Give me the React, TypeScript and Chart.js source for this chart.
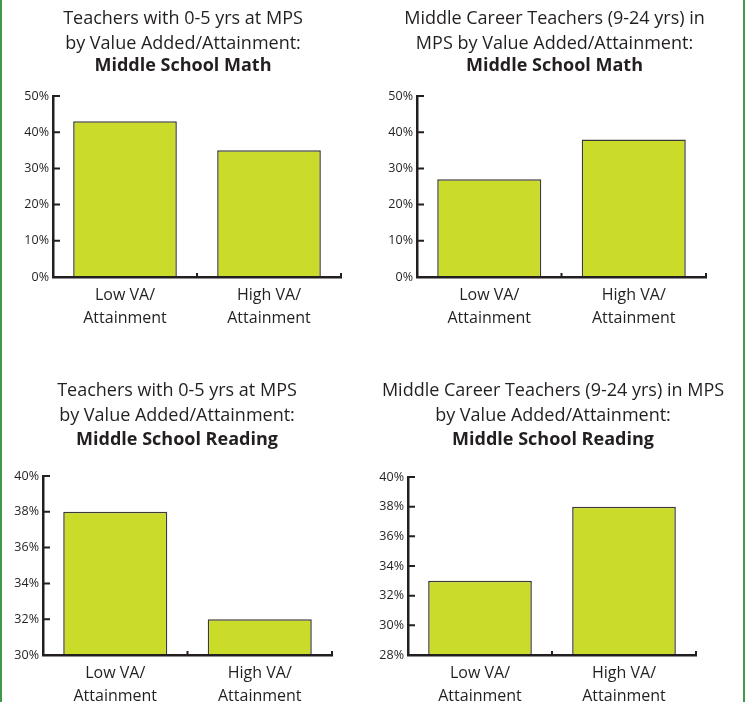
import React, { useEffect, useRef } from "react";
import { Chart, registerables } from "chart.js";

Chart.register(...registerables);

// ---- data ----
const categories: string[][] = [
  ["Low VA/", "Attainment"],
  ["High VA/", "Attainment"],
];
const mathNewTitle = ["Teachers with 0-5 yrs at MPS", "by Value Added/Attainment:"];
const mathMidTitle = ["Middle Career Teachers (9-24 yrs) in", "MPS by Value Added/Attainment:"];
const readNewTitle = ["Teachers with 0-5 yrs at MPS", "by Value Added/Attainment:"];
const readMidTitle = ["Middle Career Teachers (9-24 yrs) in MPS", "by Value Added/Attainment:"];
const mathSubtitle = "Middle School Math";
const readSubtitle = "Middle School Reading";

const mathNewValues = [43, 35];
const mathMidValues = [27, 38];
const readNewValues = [38, 32];
const readMidValues = [33, 38];

const mathTicks = [0, 50, 10];
const readNewTicks = [30, 40, 2];
const readMidTicks = [28, 40, 2];

const FONT = "'Open Sans', 'Noto Sans', sans-serif";
const INK = "#231f20";

const inwardTicks = {
  id: "inwardTicks",
  afterDraw(chart: any) {
    const { ctx, chartArea } = chart;
    const y = chart.scales.y;
    const x = chart.scales.x;
    ctx.save();
    ctx.strokeStyle = INK;
    ctx.lineWidth = 2;
    ctx.beginPath();
    y.ticks.forEach((t: any) => {
      const py = y.getPixelForValue(t.value);
      ctx.moveTo(chartArea.left, py);
      ctx.lineTo(chartArea.left + 7, py);
    });
    const n = x.ticks.length;
    for (let i = 0; i < n; i++) {
      const px = i < n - 1 ? (x.getPixelForValue(i) + x.getPixelForValue(i + 1)) / 2 : chartArea.right;
      ctx.moveTo(px, chartArea.bottom);
      ctx.lineTo(px, chartArea.bottom - 4);
    }
    ctx.stroke();
    ctx.restore();
  },
};

type Props = {
  left: number;
  top: number;
  width: number;
  height: number;
  titleLines: string[];
  subtitle: string;
  values: number[];
  ticks: number[];
  yAxisWidth: number;
  rightGap: number;
  xAxisHeight: number;
  titlePadTop: number;
  subPadTop: number;
  subPadBottom: number;
};

function BarChart(p: Props) {
  const ref = useRef<HTMLCanvasElement | null>(null);
  useEffect(() => {
    if (!ref.current) return;
    const chart = new Chart(ref.current, {
      type: "bar",
      data: {
        labels: categories as any,
        datasets: [
          {
            data: p.values,
            backgroundColor: "#cbdb2a",
            borderColor: "#3a3a3a",
            borderWidth: 1.5,
            categoryPercentage: 0.72,
            barPercentage: 1,
          },
        ],
      },
      options: {
        animation: false,
        responsive: false,
        devicePixelRatio: 1,
        layout: { padding: 0 },
        plugins: {
          legend: { display: false },
          tooltip: { enabled: false },
          title: {
            display: true,
            text: p.titleLines,
            color: INK,
            font: { family: FONT, size: 18, weight: "normal", lineHeight: 25 / 18 },
            padding: { top: p.titlePadTop, bottom: 0 },
          },
          subtitle: {
            display: true,
            text: p.subtitle,
            color: INK,
            font: { family: FONT, size: 18, weight: "bold", lineHeight: 20 / 18 },
            padding: { top: p.subPadTop, bottom: p.subPadBottom },
          },
        },
        scales: {
          x: {
            grid: { display: false, drawTicks: false },
            border: { display: true, color: INK, width: 2.5, z: 1 },
            ticks: {
              color: INK,
              padding: 7,
              font: { family: FONT, size: 16, lineHeight: 23 / 16 },
              maxRotation: 0,
              autoSkip: false,
            },
            afterFit(s: any) {
              s.height = p.xAxisHeight;
            },
          },
          y: {
            min: p.ticks[0],
            max: p.ticks[1],
            grid: { display: false, drawTicks: false },
            border: { display: true, color: INK, width: 2.5, z: 1 },
            ticks: {
              stepSize: p.ticks[2],
              color: INK,
              padding: 4,
              font: { family: FONT, size: 12.5 },
              callback: (v: any) => v + "%",
            },
            afterFit(s: any) {
              s.width = p.yAxisWidth;
            },
          },
          y2: {
            type: "linear",
            position: "right",
            display: true,
            grid: { display: false, drawTicks: false },
            border: { display: false },
            ticks: { display: false },
            afterFit(s: any) {
              s.width = p.rightGap;
            },
          },
        },
      } as any,
      plugins: [inwardTicks],
    });
    return () => chart.destroy();
  }, []);
  return (
    <canvas
      ref={ref}
      width={p.width}
      height={p.height}
      style={{ position: "absolute", left: p.left, top: p.top, width: p.width, height: p.height }}
    />
  );
}

export default function App() {
  return (
    <div
      style={{
        position: "absolute",
        left: 0,
        top: 0,
        width: 746,
        height: 702,
        background: "#ffffff",
        overflow: "hidden",
      }}
    >
      <div style={{ position: "absolute", left: 0, top: 0, width: 2, height: 702, background: "#3d9a4c" }} />
      <div style={{ position: "absolute", left: 743, top: 0, width: 2, height: 702, background: "#3d9a4c" }} />
      <BarChart
        left={0} top={0} width={366} height={351}
        titleLines={mathNewTitle} subtitle={mathSubtitle} values={mathNewValues} ticks={mathTicks}
        yAxisWidth={53} rightGap={25} xAxisHeight={74}
        titlePadTop={6} subPadTop={0} subPadBottom={20}
      />
      <BarChart
        left={373} top={0} width={363} height={351}
        titleLines={mathMidTitle} subtitle={mathSubtitle} values={mathMidValues} ticks={mathTicks}
        yAxisWidth={44} rightGap={30} xAxisHeight={74}
        titlePadTop={6} subPadTop={0} subPadBottom={20}
      />
      <BarChart
        left={0} top={351} width={354} height={351}
        titleLines={readNewTitle} subtitle={readSubtitle} values={readNewValues} ticks={readNewTicks}
        yAxisWidth={43} rightGap={22} xAxisHeight={47}
        titlePadTop={27} subPadTop={1.5} subPadBottom={26.5}
      />
      <BarChart
        left={373} top={351} width={360} height={351}
        titleLines={readMidTitle} subtitle={readSubtitle} values={readMidValues} ticks={readMidTicks}
        yAxisWidth={35} rightGap={37} xAxisHeight={47}
        titlePadTop={27} subPadTop={1.5} subPadBottom={27.5}
      />
    </div>
  );
}
